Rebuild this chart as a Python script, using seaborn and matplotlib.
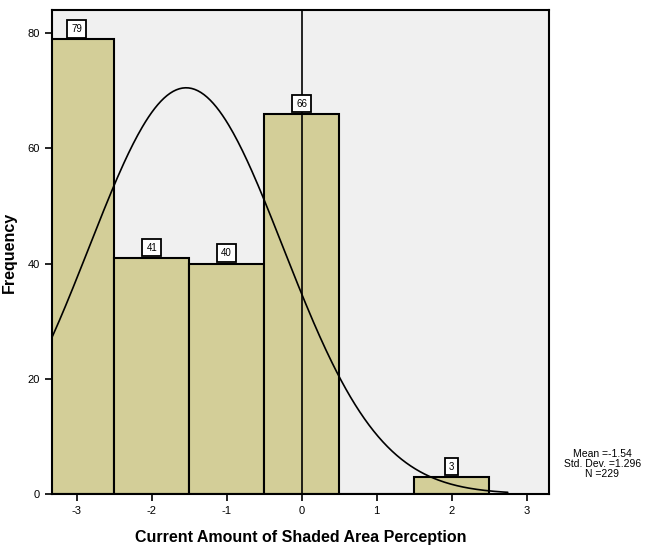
import numpy as np
import pandas as pd
import matplotlib
matplotlib.use("Agg")
import matplotlib.pyplot as plt
import seaborn as sns

# perception scores and how many respondents gave each
scores = [-3, -2, -1, 0, 2]
counts = [79, 41, 40, 66, 3]
x_ticks = [-3, -2, -1, 0, 1, 2, 3]
y_ticks = [0, 20, 40, 60, 80]

df = pd.DataFrame({"score": scores, "count": counts})

n = int(np.sum(counts))
mean = np.average(scores, weights=counts)
sd = np.sqrt(np.sum(df["count"] * (df["score"] - mean) ** 2) / (n - 1))

sns.set_style("white")
plt.rcParams["font.family"] = ["Liberation Sans", "DejaVu Sans"]
plt.rcParams["axes.unicode_minus"] = False
plt.rcParams["text.color"] = "black"
plt.rcParams["axes.labelcolor"] = "black"

fig = plt.figure(figsize=(6.51, 5.53), dpi=100)
ax = fig.add_axes([0.0799, 0.1067, 0.7634, 0.8752])
ax.set_facecolor("#f0f0f0")

sns.histplot(data=df, x="score", weights="count", discrete=True,
             color="#d3ce98", alpha=1, edgecolor="black", linewidth=1.5, ax=ax)

# normal curve scaled to counts (bin width 1)
xs = np.linspace(-3.4, 2.75, 300)
ys = n / (sd * np.sqrt(2 * np.pi)) * np.exp(-0.5 * ((xs - mean) / sd) ** 2)
ax.plot(xs, ys, color="black", linewidth=1.2)

# reference line at zero
ax.axvline(0, color="black", linewidth=1.2)

for s, c in zip(scores, counts):
    ax.text(s, c + 0.9, str(c), ha="center", va="bottom", fontsize=7,
            bbox=dict(boxstyle="square,pad=0.4", fc="white", ec="black", lw=1.3))

ax.set_xlim(-3.33, 3.3)
ax.set_ylim(0, 84)
ax.set_xticks(x_ticks)
ax.set_yticks(y_ticks)
ax.tick_params(axis="both", direction="out", length=5, width=1.2,
               labelsize=8, colors="black", bottom=True, left=True)
for sp in ax.spines.values():
    sp.set_color("black")
    sp.set_linewidth(1.5)

ax.set_xlabel("Current Amount of Shaded Area Perception", fontsize=11.5,
              fontweight="bold", labelpad=10)
ax.set_ylabel("Frequency", fontsize=11.5, fontweight="bold", labelpad=8)

fig.text(0.925, 0.161, f"Mean =-{abs(mean):.2f}\nStd. Dev. =1.{int(round(sd*1000))%1000:03d}\nN ={n}",
         ha="center", va="center", fontsize=7.5, linespacing=1.05)

fig.savefig("out.png", dpi=100)
